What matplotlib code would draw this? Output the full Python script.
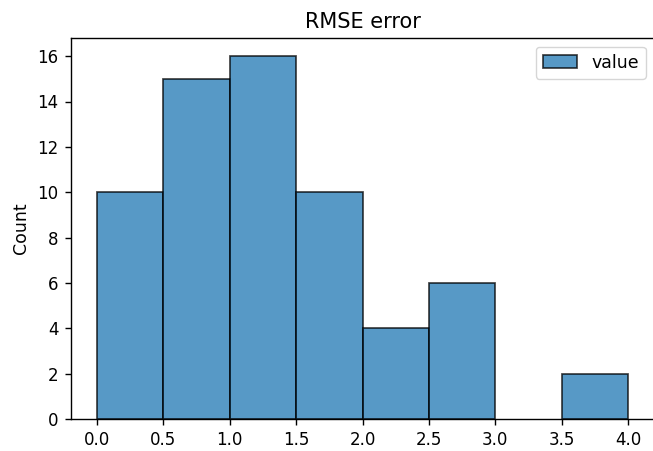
import numpy as np
import matplotlib

matplotlib.use('Agg')
from matplotlib import pyplot as plt

# histogram of RMSE errors, bin width 0.5
bin_edges = [0.0, 0.5, 1.0, 1.5, 2.0, 2.5, 3.0, 3.5, 4.0]
counts = [10, 15, 16, 10, 4, 6, 0, 2]
series_name = 'value'

# the reference is an upscaled notebook figure, so everything is ~1.25x
scale = 1.25

fig = plt.figure(figsize=(6.53, 4.51), dpi=100)
ax = fig.add_axes([70.5 / 653, 1 - 419 / 451, 584 / 653, (419 - 38) / 451])

edges = np.array(bin_edges)
centers = (edges[:-1] + edges[1:]) / 2
_, _, patches = ax.hist(centers, bins=edges, weights=counts, color='#1f77b4', alpha=0.75,
                        edgecolor='black', linewidth=1.0 * scale, label=series_name)
# empty bins should not leave an outline on the axis
for p in patches:
    if p.get_height() == 0:
        p.set_visible(False)

ax.set_xlim(-0.2, 4.2)
ax.set_ylim(0, 16.8)
ax.set_xticks(np.arange(0, 4.01, 0.5))
ax.set_yticks(np.arange(0, 17, 2))
ax.tick_params(labelsize=12, length=3.5 * scale, width=0.8 * scale, pad=3.5 * scale)
for sp in ax.spines.values():
    sp.set_linewidth(0.8 * scale)
# right edge of the frame is cropped out of the reference
ax.spines['right'].set_visible(False)
ax.set_ylabel('Count', fontsize=12.5, labelpad=4 * scale)
ax.set_title('RMSE error', fontsize=15, pad=6 * scale)
ax.legend(loc='upper right', fontsize=12.5)

fig.savefig('out.png', dpi=100)
